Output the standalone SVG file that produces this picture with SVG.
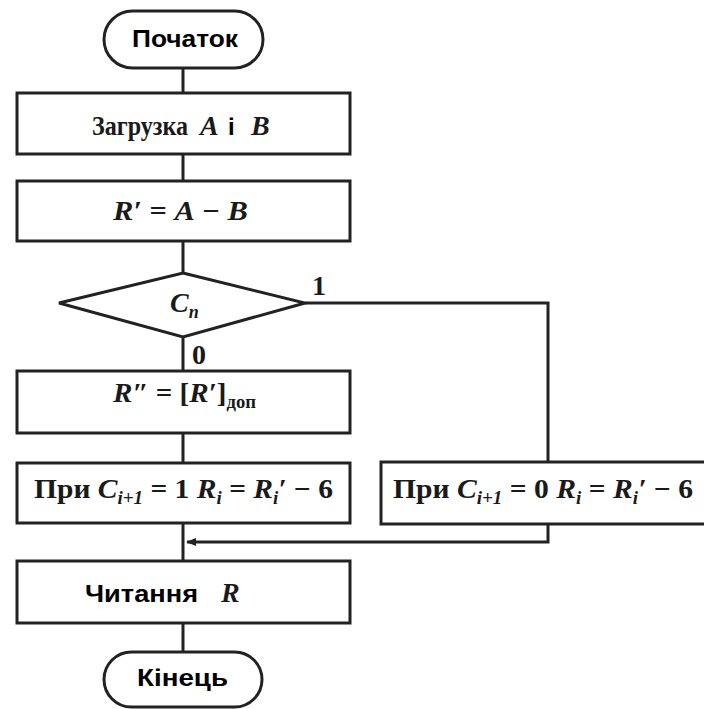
<svg xmlns="http://www.w3.org/2000/svg" width="704" height="709" viewBox="0 0 704 709">
<style>
.s{fill:#fff;stroke:#222;stroke-width:3}
.c{fill:none;stroke:#222;stroke-width:3}
.t{font-family:"Liberation Serif","Times New Roman",serif;font-size:28px;font-weight:bold;fill:#1a1a1a}
.a{font-family:"Liberation Sans",Arial,sans-serif;font-size:24px;font-weight:bold;fill:#000}
.i{font-style:italic}
.sub{font-size:18px}
</style>
<defs>
<marker id="ah" markerWidth="10" markerHeight="8" refX="9" refY="4" orient="auto" markerUnits="userSpaceOnUse">
<path d="M0,0 L10,4 L0,8 Z" fill="#222"/>
</marker>
</defs>
<rect width="704" height="709" fill="#fff"/>
<g id="connectors">
<line class="c" x1="183" y1="68" x2="183" y2="93"/>
<line class="c" x1="183" y1="154" x2="183" y2="181"/>
<line class="c" x1="183" y1="241" x2="183" y2="273"/>
<line class="c" x1="183" y1="337" x2="183" y2="371"/>
<line class="c" x1="183" y1="433" x2="183" y2="463"/>
<line class="c" x1="183" y1="523" x2="183" y2="561"/>
<line class="c" x1="183" y1="623" x2="183" y2="652"/>
<polyline class="c" points="305,303 548,303 548,462"/>
<polyline class="c" points="548,524 548,542 187,542" marker-end="url(#ah)"/>
<text class="t" x="312" y="295" font-weight="normal" font-size="26">1</text>
<text class="t" x="192" y="364" font-weight="normal" font-size="28">0</text>
</g>
<g id="start">
<rect class="s" x="104" y="11" width="159" height="57" rx="28.5"/>
<text class="a" x="132" y="47" textLength="106" lengthAdjust="spacingAndGlyphs">Початок</text>
</g>
<g id="load">
<rect class="s" x="17" y="93" width="333" height="61"/>
<text class="t" transform="translate(92,135) scale(0.86,1)" font-size="27">Загрузка</text>
<text class="t i" x="200" y="135">A</text>
<text class="a" x="228" y="135">і</text>
<text class="t i" x="251" y="135">B</text>
</g>
<g id="sub">
<rect class="s" x="17" y="181" width="333" height="60"/>
<text class="t" x="113" y="220" textLength="135" lengthAdjust="spacingAndGlyphs"><tspan class="i">R′</tspan> = <tspan class="i">A</tspan> − <tspan class="i">B</tspan></text>
</g>
<g id="cond">
<polygon class="s" points="183,273 305,303 183,337 59,303"/>
<text class="t" x="170" y="312"><tspan class="i">C</tspan><tspan class="i sub" dy="6">n</tspan></text>
</g>
<g id="compl">
<rect class="s" x="17" y="371" width="333" height="62"/>
<text class="t" x="113" y="402" textLength="143" lengthAdjust="spacingAndGlyphs"><tspan class="i">R″</tspan> = [<tspan class="i">R′</tspan>]<tspan class="sub" dy="6">доп</tspan></text>
</g>
<g id="left">
<rect class="s" x="17" y="463" width="333" height="60"/>
<text class="t" x="34" y="498" textLength="299" lengthAdjust="spacingAndGlyphs">При <tspan class="i">C</tspan><tspan class="i sub" dy="6">i+1</tspan><tspan dy="-6"> = 1  </tspan><tspan class="i">R</tspan><tspan class="i sub" dy="6">i</tspan><tspan dy="-6"> = </tspan><tspan class="i">R</tspan><tspan class="i sub" dy="6">i</tspan><tspan class="i" dy="-6">′</tspan> − 6</text>
</g>
<g id="right">
<rect class="s" x="381" y="462" width="335" height="62"/>
<text class="t" x="393" y="498" textLength="300" lengthAdjust="spacingAndGlyphs">При <tspan class="i">C</tspan><tspan class="i sub" dy="6">i+1</tspan><tspan dy="-6"> = 0  </tspan><tspan class="i">R</tspan><tspan class="i sub" dy="6">i</tspan><tspan dy="-6"> = </tspan><tspan class="i">R</tspan><tspan class="i sub" dy="6">i</tspan><tspan class="i" dy="-6">′</tspan> − 6</text>
</g>
<g id="read">
<rect class="s" x="17" y="561" width="333" height="62"/>
<text class="a" x="85" y="602" textLength="113" lengthAdjust="spacingAndGlyphs">Читання</text>
<text class="t i" x="221" y="602" font-size="26">R</text>
</g>
<g id="end">
<rect class="s" x="104" y="652" width="158" height="55" rx="27.5"/>
<text class="a" x="137" y="686" textLength="91" lengthAdjust="spacingAndGlyphs">Кінець</text>
</g>
</svg>
